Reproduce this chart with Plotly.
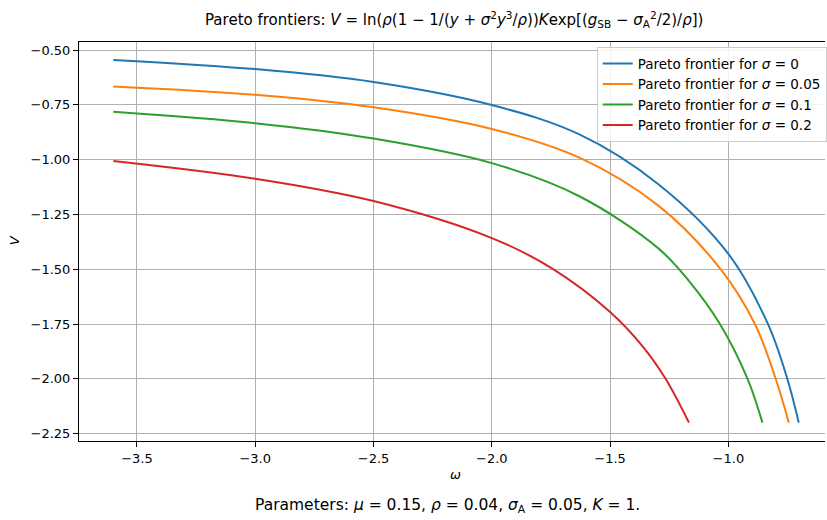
import plotly.graph_objects as go

# ---- data ----
series_names = ["Pareto frontier for <i>σ</i> = 0",
                "Pareto frontier for <i>σ</i> = 0.05",
                "Pareto frontier for <i>σ</i> = 0.1",
                "Pareto frontier for <i>σ</i> = 0.2"]
colors = ["#1f77b4", "#ff7f0e", "#2ca02c", "#d62728"]

omega_s0 = [-3.6, -3.0, -2.5, -2.0, -1.632, -1.296, -1.0, -0.832, -0.751, -0.7025]
V_s0 = [-0.545, -0.587, -0.646, -0.751, -0.884, -1.112, -1.43, -1.752, -2.0, -2.2]

omega_s005 = [-3.6, -3.0, -2.5, -2.0, -1.632, -1.296, -1.029, -0.888, -0.80, -0.7447]
V_s005 = [-0.666, -0.704, -0.761, -0.860, -0.99, -1.21, -1.505, -1.75, -2.0, -2.2]

omega_s01 = [-3.6, -3.0, -2.5, -2.0, -1.632, -1.296, -1.1696, -1.0359, -0.919, -0.856]
V_s01 = [-0.782, -0.834, -0.904, -1.016, -1.166, -1.405, -1.55, -1.75, -2.0, -2.2]

omega_s02 = [-3.6, -3.0, -2.5, -2.0, -1.746, -1.5, -1.36, -1.2654, -1.1667]
V_s02 = [-1.006, -1.087, -1.189, -1.358, -1.496, -1.695, -1.855, -2.0, -2.2]

x_ticks = [-3.5, -3.0, -2.5, -2.0, -1.5, -1.0]
y_ticks = [-0.50, -0.75, -1.00, -1.25, -1.50, -1.75, -2.00, -2.25]

omegas = [omega_s0, omega_s005, omega_s01, omega_s02]
Vs = [V_s0, V_s005, V_s01, V_s02]

FONT = "DejaVu Sans"
TICK = 13

fig = go.Figure()
for name, c, xs, ys in zip(series_names, colors, omegas, Vs):
    fig.add_trace(go.Scatter(x=xs, y=ys, mode="lines", name=name,
                             line=dict(color=c, width=2, shape="spline", smoothing=1.0)))

def fmt(v, d):
    s = f"{abs(v):.{d}f}"
    return ("\u2212" + s) if v < 0 else s

fig.update_layout(
    width=827, height=520,
    margin=dict(l=79, r=0, t=42, b=79),
    paper_bgcolor="white", plot_bgcolor="white",
    font=dict(family=FONT, size=TICK, color="black"),
    showlegend=True,
    legend=dict(x=0.694, y=0.987, xanchor="left", yanchor="top",
                bgcolor="rgba(255,255,255,0.85)", bordercolor="#cccccc", borderwidth=1,
                font=dict(family=FONT, size=13.5, color="black"),
                tracegroupgap=0, itemwidth=30),
    xaxis=dict(range=[-3.745, -0.5916], showgrid=True, gridcolor="#b0b0b0", gridwidth=0.8,
               zeroline=False, showline=True, linecolor="black", linewidth=1, mirror=True,
               ticks="outside", ticklen=5, tickcolor="black",
               tickvals=x_ticks, ticktext=[fmt(v, 1) for v in x_ticks],
               tickfont=dict(family=FONT, size=TICK, color="black")),
    yaxis=dict(range=[-2.2838, -0.4634], showgrid=True, gridcolor="#b0b0b0", gridwidth=0.8,
               zeroline=False, showline=True, linecolor="black", linewidth=1, mirror=False,
               ticks="outside", ticklen=5, tickcolor="black",
               tickvals=y_ticks, ticktext=[fmt(v, 2) for v in y_ticks],
               tickfont=dict(family=FONT, size=TICK, color="black")),
)

title_txt = ("Pareto frontiers: <i>V</i> = ln(<i>ρ</i>(1 − 1/(<i>y</i> + <i>σ</i><sup>2</sup><i>y</i><sup>3</sup>/<i>ρ</i>))"
             "<i>K</i>exp[(<i>g</i><sub>SB</sub> − <i>σ</i><sub>A</sub><sup>2</sup>/2)/<i>ρ</i>])")
fig.add_annotation(text=title_txt, xref="paper", yref="paper",
                   x=(455 - 79) / 748, y=1 + (42 - 20) / 399, xanchor="center", yanchor="middle",
                   showarrow=False, font=dict(family=FONT, size=15, color="black"))
fig.add_annotation(text="<i>ω</i>", xref="paper", yref="paper",
                   x=(457 - 79) / 748, y=-(474 - 441) / 399, xanchor="center", yanchor="middle",
                   showarrow=False, font=dict(family=FONT, size=13, color="black"))
fig.add_annotation(text="<i>V</i>", xref="paper", yref="paper", textangle=-90,
                   x=-(79 - 14) / 748, y=(441 - 240) / 399, xanchor="center", yanchor="middle",
                   showarrow=False, font=dict(family=FONT, size=13, color="black"))
fig.add_annotation(text="Parameters: <i>μ</i> = 0.15, <i>ρ</i> = 0.04, <i>σ</i><sub>A</sub> = 0.05, <i>K</i> = 1.",
                   xref="paper", yref="paper",
                   x=(448 - 79) / 748, y=-(506 - 441) / 399, xanchor="center", yanchor="middle",
                   showarrow=False, font=dict(family=FONT, size=15.5, color="black"))

fig.write_html("out.html")
